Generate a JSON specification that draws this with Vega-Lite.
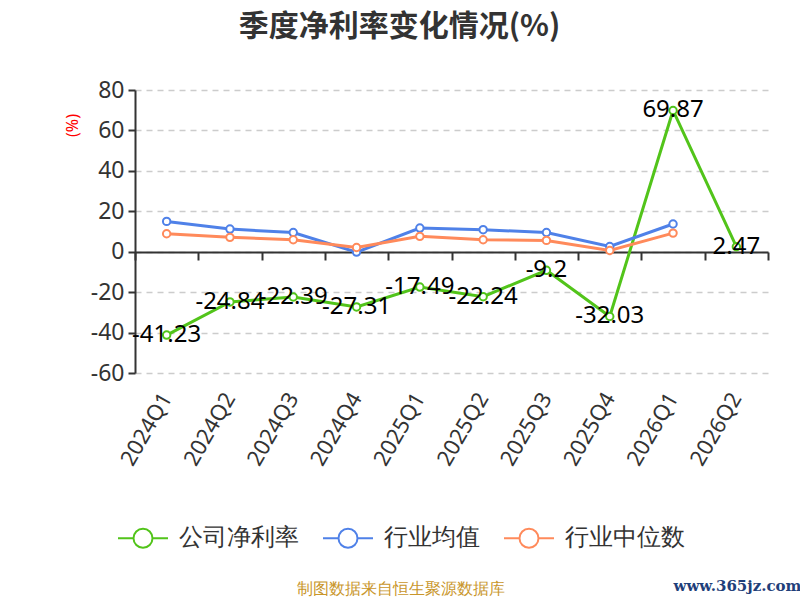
{
  "$schema": "https://vega.github.io/schema/vega-lite/v6.json",
  "autosize": "none",
  "width": 633,
  "height": 283,
  "padding": {"left": 135, "top": 90, "right": 32, "bottom": 227},
  "background": "white",
  "title": {
    "text": "季度净利率变化情况(%)",
    "fontSize": 30,
    "fontWeight": "bold",
    "font": "Noto Sans CJK SC",
    "color": "#333333",
    "anchor": "middle",
    "dx": -52,
    "offset": 37
  },
  "data": {
    "values": [
      {"quarter": "2024Q1", "series": "公司净利率", "value": -41.23},
      {"quarter": "2024Q2", "series": "公司净利率", "value": -24.84},
      {"quarter": "2024Q3", "series": "公司净利率", "value": -22.39},
      {"quarter": "2024Q4", "series": "公司净利率", "value": -27.31},
      {"quarter": "2025Q1", "series": "公司净利率", "value": -17.49},
      {"quarter": "2025Q2", "series": "公司净利率", "value": -22.24},
      {"quarter": "2025Q3", "series": "公司净利率", "value": -9.2},
      {"quarter": "2025Q4", "series": "公司净利率", "value": -32.03},
      {"quarter": "2026Q1", "series": "公司净利率", "value": 69.87},
      {"quarter": "2026Q2", "series": "公司净利率", "value": 2.47},
      {"quarter": "2024Q1", "series": "行业均值", "value": 15.0},
      {"quarter": "2024Q2", "series": "行业均值", "value": 11.2},
      {"quarter": "2024Q3", "series": "行业均值", "value": 9.5},
      {"quarter": "2024Q4", "series": "行业均值", "value": -0.2},
      {"quarter": "2025Q1", "series": "行业均值", "value": 11.7},
      {"quarter": "2025Q2", "series": "行业均值", "value": 10.9},
      {"quarter": "2025Q3", "series": "行业均值", "value": 9.5},
      {"quarter": "2025Q4", "series": "行业均值", "value": 2.6},
      {"quarter": "2026Q1", "series": "行业均值", "value": 13.7},
      {"quarter": "2024Q1", "series": "行业中位数", "value": 8.9},
      {"quarter": "2024Q2", "series": "行业中位数", "value": 7.1},
      {"quarter": "2024Q3", "series": "行业中位数", "value": 5.9},
      {"quarter": "2024Q4", "series": "行业中位数", "value": 2.1},
      {"quarter": "2025Q1", "series": "行业中位数", "value": 7.6},
      {"quarter": "2025Q2", "series": "行业中位数", "value": 5.9},
      {"quarter": "2025Q3", "series": "行业中位数", "value": 5.6},
      {"quarter": "2025Q4", "series": "行业中位数", "value": 0.6},
      {"quarter": "2026Q1", "series": "行业中位数", "value": 9.2}
    ]
  },
  "encoding": {
    "y": {
      "field": "value",
      "type": "quantitative",
      "scale": {"domain": [-60, 80], "nice": false},
      "axis": {
        "values": [-60, -40, -20, 0, 20, 40, 60, 80],
        "title": "(%)",
        "titleColor": "red",
        "titleFontSize": 16,
        "titleFontWeight": "normal",
        "titleX": -63,
        "titleY": 35,
        "titleAlign": "center",
        "titleBaseline": "middle",
        "labelFontSize": 23,
        "labelColor": "#333333",
        "labelPadding": 4,
        "domainColor": "#333333",
        "domainWidth": 2,
        "tickColor": "#333333",
        "tickWidth": 2,
        "tickSize": 7,
        "grid": true,
        "gridColor": "#cccccc",
        "gridDash": [6, 5],
        "gridWidth": 1.5
      }
    }
  },
  "layer": [
    {
      "mark": {"type": "line", "strokeWidth": 3},
      "encoding": {
        "x": {
          "field": "quarter",
          "type": "ordinal",
          "scale": {"type": "band", "paddingInner": 0, "paddingOuter": 0},
          "axis": {
            "orient": "bottom",
            "offset": -121,
            "labels": false,
            "tickBand": "extent",
            "domainColor": "#333333",
            "domainWidth": 2,
            "tickColor": "#333333",
            "tickWidth": 2,
            "tickSize": 8,
            "title": "www.365jz.com",
            "titleFont": "DejaVu Serif",
            "titleFontSize": 15,
            "titleFontWeight": "bold",
            "titleColor": "#1f3f7a",
            "titleX": 602,
            "titleY": 333,
            "titleAlign": "center",
            "titleBaseline": "middle"
          }
        },
        "color": {
          "field": "series",
          "type": "nominal",
          "scale": {
            "domain": ["公司净利率", "行业均值", "行业中位数"],
            "range": ["#52c41a", "#4f81e8", "#ff8a5b"]
          },
          "legend": {
            "orient": "none",
            "direction": "horizontal",
            "legendX": -18,
            "legendY": 422,
            "title": null,
            "symbolType": "M-1,0L-0.38,0M0.38,0L1,0M0.38,0A0.38,0.38 0 1,1 -0.38,0A0.38,0.38 0 1,1 0.38,0",
            "symbolSize": 2500,
            "symbolStrokeWidth": 2,
            "symbolFillColor": "white",
            "labelFontSize": 24,
            "labelColor": "#333333",
            "labelOffset": 10,
            "columnPadding": 20,
            "labelLimit": 300
          }
        }
      }
    },
    {
      "mark": {"type": "point", "filled": true, "fill": "white", "opacity": 1, "size": 55, "strokeWidth": 2},
      "encoding": {
        "x": {"field": "quarter", "type": "ordinal", "axis": null},
        "stroke": {"field": "series", "type": "nominal", "legend": null, "scale": {
          "domain": ["公司净利率", "行业均值", "行业中位数"],
          "range": ["#52c41a", "#4f81e8", "#ff8a5b"]
        }}
      }
    },
    {
      "transform": [{"filter": "datum.series === '公司净利率'"}],
      "mark": {"type": "text", "fontSize": 24, "color": "black", "align": "center", "baseline": "middle", "font": "Noto Sans"},
      "encoding": {
        "x": {
          "field": "quarter",
          "type": "ordinal",
          "axis": {
            "orient": "bottom",
            "domain": false,
            "ticks": false,
            "grid": false,
            "labelAngle": -60,
            "labelAlign": "right",
            "labelBaseline": "middle",
            "labelFontSize": 22,
            "labelColor": "#333333",
            "labelPadding": 21,
            "title": "制图数据来自恒生聚源数据库",
            "titleFontSize": 16,
            "titleFontWeight": "normal",
            "titleColor": "#c9962b",
            "titleX": 265,
            "titleY": 215,
            "titleAlign": "center",
            "titleBaseline": "middle"
          }
        },
        "text": {"field": "value", "type": "quantitative"}
      }
    }
  ],
  "resolve": {"axis": {"x": "independent"}},
  "config": {
    "font": "Noto Sans",
    "view": {"stroke": null},
    "locale": {
      "number": {
        "decimal": ".",
        "thousands": ",",
        "grouping": [3],
        "currency": ["$", ""],
        "minus": "-"
      }
    }
  }
}
